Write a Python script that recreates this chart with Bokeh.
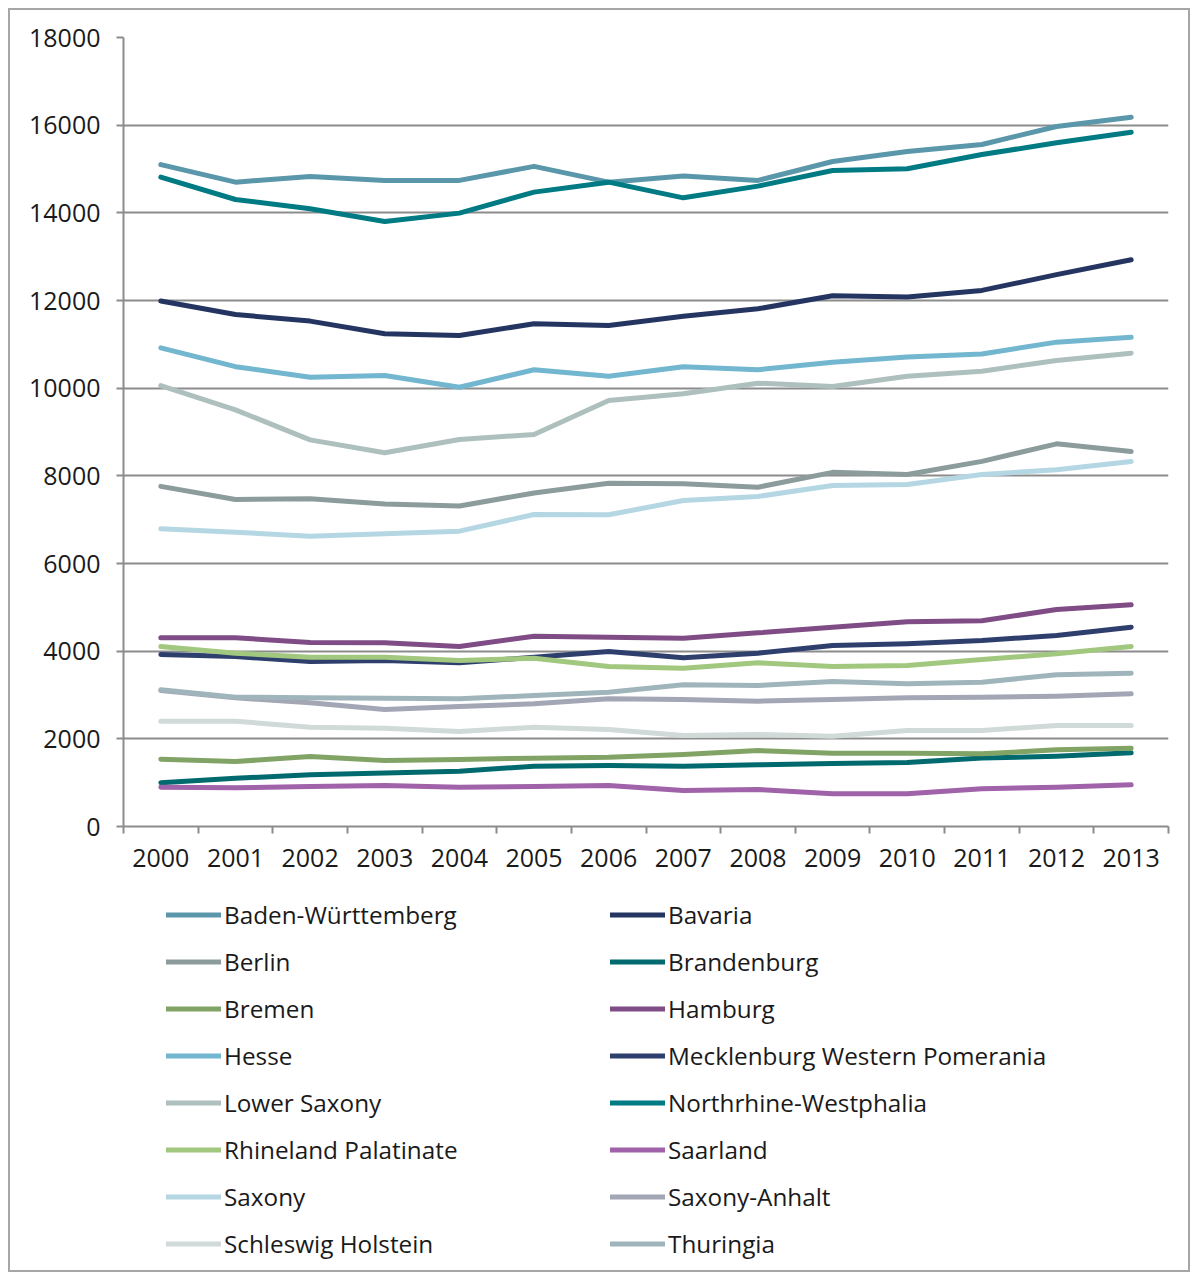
from bokeh.plotting import figure
from bokeh.layouts import column
from bokeh.models import FixedTicker, Legend, LegendItem, Range1d
from bokeh.embed import file_html
from bokeh.resources import INLINE

years = [str(y) for y in range(2000, 2014)]
xs = list(range(len(years)))

baden_wuerttemberg = [15100, 14700, 14830, 14740, 14740, 15060, 14700, 14840, 14740, 15170, 15400, 15560, 15970, 16180]
bavaria = [11990, 11680, 11530, 11240, 11200, 11470, 11430, 11640, 11810, 12110, 12080, 12230, 12590, 12930]
berlin = [7760, 7460, 7475, 7360, 7310, 7610, 7830, 7820, 7740, 8080, 8030, 8330, 8730, 8555]
brandenburg = [1000, 1100, 1180, 1220, 1260, 1376, 1392, 1376, 1407, 1437, 1460, 1560, 1605, 1680]
bremen = [1536, 1483, 1597, 1506, 1529, 1559, 1582, 1643, 1734, 1673, 1673, 1658, 1749, 1787]
hamburg = [4304, 4304, 4198, 4190, 4107, 4342, 4319, 4296, 4418, 4548, 4669, 4692, 4951, 5057]
hesse = [10920, 10490, 10250, 10290, 10020, 10420, 10270, 10490, 10420, 10590, 10710, 10780, 11050, 11160]
mecklenburg = [3924, 3878, 3764, 3787, 3734, 3863, 3992, 3848, 3954, 4129, 4168, 4243, 4357, 4548]
lower_saxony = [10060, 9506, 8821, 8525, 8829, 8943, 9719, 9871, 10114, 10038, 10274, 10388, 10632, 10798]
nrw = [14814, 14304, 14092, 13802, 13993, 14472, 14700, 14342, 14609, 14966, 15004, 15331, 15597, 15840]
rhineland = [4107, 3954, 3863, 3863, 3787, 3840, 3650, 3612, 3734, 3650, 3673, 3810, 3939, 4107]
saarland = [897, 882, 913, 935, 897, 913, 935, 821, 844, 745, 745, 859, 897, 950]
saxony = [6791, 6715, 6624, 6677, 6738, 7118, 7111, 7437, 7529, 7780, 7802, 8031, 8137, 8327]
saxony_anhalt = [3103, 2936, 2821, 2669, 2738, 2799, 2913, 2898, 2860, 2898, 2936, 2951, 2974, 3027]
schleswig = [2403, 2403, 2266, 2243, 2167, 2266, 2213, 2076, 2099, 2061, 2190, 2190, 2304, 2304]
thuringia = [3118, 2951, 2936, 2928, 2913, 2989, 3065, 3232, 3217, 3308, 3255, 3293, 3460, 3498]

names = ["Baden-Württemberg", "Bavaria", "Berlin", "Brandenburg", "Bremen", "Hamburg",
         "Hesse", "Mecklenburg Western Pomerania", "Lower Saxony", "Northrhine-Westphalia",
         "Rhineland Palatinate", "Saarland", "Saxony", "Saxony-Anhalt", "Schleswig Holstein",
         "Thuringia"]
values = [baden_wuerttemberg, bavaria, berlin, brandenburg, bremen, hamburg, hesse,
          mecklenburg, lower_saxony, nrw, rhineland, saarland, saxony, saxony_anhalt,
          schleswig, thuringia]
colors = ["#5b97aa", "#253561", "#8c9c9c", "#006a6e", "#82a366", "#7f4c86", "#72b6cf",
          "#2e3f6e", "#adc0be", "#007b83", "#a1c87e", "#a062a8", "#b5d7e3", "#a3a6b4",
          "#cfdad9", "#a0b5bb"]

FONT = "Open Sans"
TXT = "#1a1a1a"
GRID = "#8c8c8c"
LW = 5

p = figure(width=1178, height=876, output_backend="svg", toolbar_location=None,
           x_range=Range1d(-0.5, 13.5), y_range=Range1d(0, 18000),
           min_border_left=113, min_border_right=20, min_border_top=27,
           min_border_bottom=60)
p.outline_line_color = None

for v, c in zip(values, colors):
    p.line(xs, v, line_color=c, line_width=LW, line_cap="round", line_join="round")

# axes
p.xaxis.ticker = FixedTicker(ticks=xs, minor_ticks=[i - 0.5 for i in range(len(years) + 1)])
p.xaxis.major_label_overrides = {i: y for i, y in enumerate(years)}
p.xaxis.major_tick_line_color = None
p.xaxis.minor_tick_in = 0
p.xaxis.minor_tick_out = 7
p.xaxis.minor_tick_line_color = GRID
p.xaxis.minor_tick_line_width = 2
p.xaxis.axis_line_color = GRID
p.xaxis.axis_line_width = 2
p.xaxis.major_label_standoff = 15
p.xgrid.visible = False

p.yaxis.ticker = FixedTicker(ticks=list(range(0, 18001, 2000)), minor_ticks=[])
p.yaxis.major_tick_in = 0
p.yaxis.major_tick_out = 7
p.yaxis.major_tick_line_color = GRID
p.yaxis.major_tick_line_width = 2
p.yaxis.minor_tick_line_color = None
p.yaxis.axis_line_color = GRID
p.yaxis.axis_line_width = 2
p.yaxis.major_label_standoff = 16
p.ygrid.grid_line_color = GRID
p.ygrid.grid_line_width = 2

for ax in (p.xaxis[0], p.yaxis[0]):
    ax.major_label_text_font = FONT
    ax.major_label_text_font_size = "25px"
    ax.major_label_text_color = TXT

# legend figure (below the chart); its lines carry the series but lie outside its view
lg = figure(width=1178, height=384, output_backend="svg", toolbar_location=None,
            x_range=Range1d(0, 1), y_range=Range1d(0, 1),
            x_axis_location=None, y_axis_location=None,
            min_border_left=0, min_border_right=0, min_border_top=0, min_border_bottom=0)
lg.outline_line_color = None
lg.grid.visible = False

handles = {}
for n, v, c in zip(names, values, colors):
    handles[n] = lg.line(xs, v, line_color=c, line_width=LW, line_cap="round")

left_col = [names[i] for i in range(0, 16, 2)]
right_col = [names[i] for i in range(1, 16, 2)]
items = [LegendItem(label=n, renderers=[handles[n]]) for n in left_col + right_col]
legend = Legend(items=items, ncols=2, orientation="vertical", location=(43, 10),
                label_text_font=FONT, label_text_font_size="24.3px", label_text_color=TXT,
                glyph_width=55, glyph_height=33, label_height=33, label_width=372,
                label_standoff=3, spacing=14, padding=5, margin=0,
                border_line_color=None, background_fill_alpha=0)
lg.add_layout(legend, "center")

layout = column(p, lg, spacing=0,
                styles={"border": "2px solid #a6a6a6", "margin-left": "8px",
                        "margin-top": "8px"})

open("out.html", "w").write(file_html(layout, INLINE))
